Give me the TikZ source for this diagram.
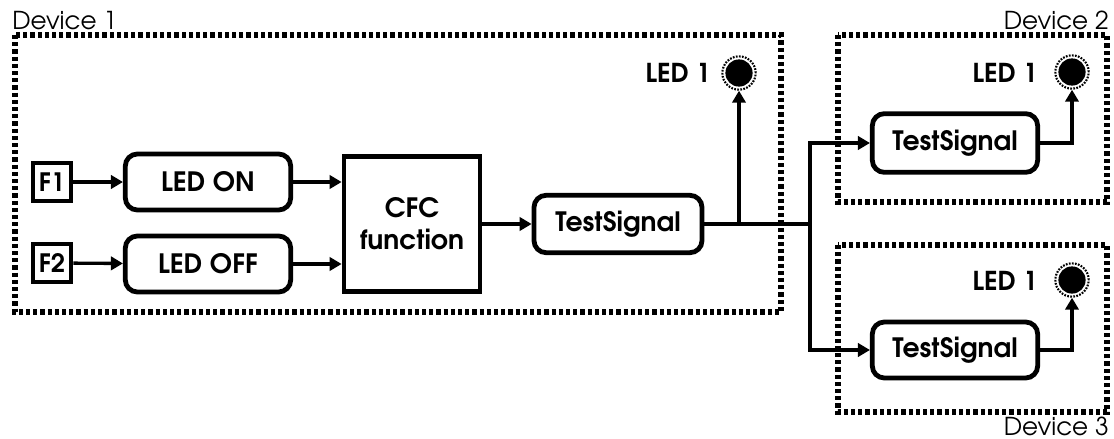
\documentclass[tikz,border=0pt]{standalone}
\usepackage{fontspec}
\setmainfont{texgyreadventor}[Extension=.otf,UprightFont=*-regular,BoldFont=*-bold]
\usetikzlibrary{arrows.meta}
\begin{document}
\begin{tikzpicture}[x=0.75pt,y=-0.75pt,
  devbox/.style={draw=black,line width=3.9pt,dash pattern=on 3.2pt off 2.2pt},
  devlabel/.style={font=\fontsize{18.5}{20}\selectfont,inner sep=0pt},
  fkey/.style={draw,line width=3pt,minimum width=29pt,minimum height=29pt,inner sep=0pt,font=\bfseries\fontsize{19}{21}\selectfont},
  blk/.style={draw,rounded corners=9pt,line width=3.6pt,minimum width=124pt,minimum height=42pt,inner sep=0pt,font=\bfseries\fontsize{20}{22}\selectfont},
  cfcbox/.style={draw,line width=3.6pt,minimum width=102pt,minimum height=101pt,inner sep=0pt,align=center,font=\bfseries\fontsize{20}{24}\selectfont},
  ledlabel/.style={font=\bfseries\fontsize{19.5}{21}\selectfont,inner sep=0pt},
  led/.style={circle,draw,line width=1.6pt,dash pattern=on 1.3pt off 1pt,minimum size=25pt,inner sep=0pt,
     path picture={\fill[black] (path picture bounding box.center) circle (10.2pt);}},
  conn/.style={line width=2.5pt},
  arr/.style={conn,-{Triangle[length=9pt,width=10pt]}}
]
\useasboundingbox (0,0) rectangle (1114,439);
% device frames
\draw[devbox] (15,35) rectangle (781,312);
\draw[devbox] (838,35) rectangle (1107,202);
\draw[devbox] (838,245) rectangle (1107,412);
\node[devlabel,anchor=base west] (d1) at (12,29) {Device 1};
\node[devlabel,anchor=base east] (d2) at (1109,29) {Device 2};
\node[devlabel,anchor=base east] (d3) at (1109,435) {Device 3};
% device 1
\node[fkey] (f1) at (52,182) {F1};
\node[fkey] (f2) at (52,263) {F2};
\node[blk] (ledon) at (208,182) {LED ON};
\node[blk] (ledoff) at (208,264) {LED OFF};
\node[cfcbox] (cfc) at (412,224) {CFC\\function};
\node[blk,minimum width=126pt,minimum height=43pt] (ts1) at (618,224) {TestSignal};
\node[led] (led1) at (739,73) {};
\node[ledlabel,anchor=east] (l1) at (711,73) {LED 1};
% device 2
\node[blk,minimum width=124pt,minimum height=44pt] (ts2) at (955,143) {TestSignal};
\node[led] (led2) at (1072,72) {};
\node[ledlabel,anchor=east] (l2) at (1038,73) {LED 1};
% device 3
\node[blk,minimum width=124pt,minimum height=42pt] (ts3) at (955,350) {TestSignal};
\node[led] (led3) at (1072,280) {};
\node[ledlabel,anchor=east] (l3) at (1038,281) {LED 1};
% connectors
\coordinate (j1) at (led1.south |- ts1.east);
\coordinate (j2) at (810,224);
\draw[arr] (f1) -- (ledon);
\draw[arr] (f2) -- (ledoff);
\draw[arr] (ledon.east) -- (ledon.east -| cfc.west);
\draw[arr] (ledoff.east) -- (ledoff.east -| cfc.west);
\draw[arr] (cfc) -- (ts1);
\draw[conn] (ts1.east) -- (j2);
\draw[arr] (j1) -- (led1.south);
\draw[arr] (j2) |- (ts2.west);
\draw[arr] (j2) |- (ts3.west);
\draw[arr] (ts2.east) -| (led2.south);
\draw[arr] (ts3.east) -| (led3.south);
\end{tikzpicture}
\end{document}
